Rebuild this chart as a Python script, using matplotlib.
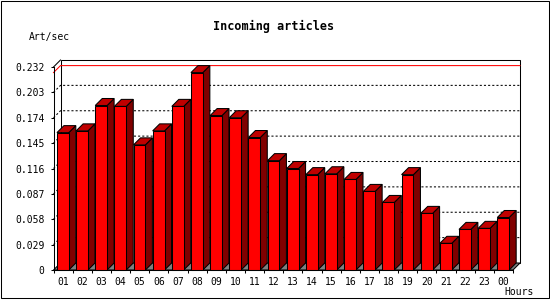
import matplotlib
matplotlib.use('Agg')
import matplotlib.pyplot as plt
from matplotlib.patches import Polygon, Rectangle

# ---- data ----
hours = ['01', '02', '03', '04', '05', '06', '07', '08', '09', '10', '11', '12',
         '13', '14', '15', '16', '17', '18', '19', '20', '21', '22', '23', '00']
rate = [0.157, 0.159, 0.188, 0.187, 0.143, 0.159, 0.187, 0.2256, 0.1765, 0.174,
        0.1514, 0.125, 0.116, 0.109, 0.110, 0.1035, 0.0898, 0.0772, 0.109, 0.0647,
        0.0305, 0.0464, 0.0476, 0.060]
yticks = [0, 0.029, 0.058, 0.087, 0.116, 0.145, 0.174, 0.203, 0.232]
ytick_labels = ['0', '0.029', '0.058', '0.087', '0.116', '0.145', '0.174', '0.203', '0.232']
title = 'Incoming articles'
ylabel = 'Art/sec'
xlabel = 'Hours'

# ---- layout (pixels) ----
W, H = 550, 300
L, R, T, B = 53.5, 513, 67, 270
DEPTH = 7
FONT = 'DejaVu Sans Mono'

fig = plt.figure(figsize=(W / 100, H / 100), dpi=100)
fig.patch.set_facecolor('white')
ax = fig.add_axes([L / W, 1 - B / H, (R - L) / W, (B - T) / H])
n = len(hours)
ymax = yticks[-1]
ax.set_xlim(0, n)
ax.set_ylim(0, ymax)
ax.patch.set_visible(False)
dx = DEPTH * n / (R - L)
dy = DEPTH * ymax / (B - T)
LW = 0.75

for s in ['top', 'right']:
    ax.spines[s].set_visible(False)
for s in ['left', 'bottom']:
    ax.spines[s].set_linewidth(LW)
    ax.spines[s].set_zorder(20)

# back plane
ax.add_patch(Rectangle((dx, dy), n, ymax, facecolor='white', edgecolor='black',
                       lw=LW, clip_on=False, zorder=1))
# grid lines on back wall + left wall
for v in yticks[1:-1]:
    ax.plot([0, dx, n + dx], [v, v + dy, v + dy], color='black', lw=LW,
            linestyle=(0, (2, 2)), clip_on=False, zorder=2)
# top-left diagonal
ax.plot([0, dx], [ymax, ymax + dy], color='black', lw=LW, clip_on=False, zorder=2)
# max line
mx = max(rate)
ax.plot([0, dx, n + dx], [mx, mx + dy, mx + dy], color='#ff0000', lw=LW,
        clip_on=False, zorder=2)
# floor
ax.add_patch(Polygon([(0, 0), (n, 0), (n + dx, dy), (dx, dy)], closed=True,
                     facecolor='#808080', edgecolor='black', lw=LW,
                     clip_on=False, zorder=3))

# bars
x0off, x1off = 0.18, 0.8
for i, v in enumerate(rate):
    a, b = i + x0off, i + x1off
    z = 4 + i * 0.01
    ax.add_patch(Polygon([(b, 0), (b + dx, dy), (b + dx, v + dy), (b, v)], closed=True,
                         facecolor='#800000', edgecolor='black', lw=LW,
                         clip_on=False, zorder=z))
    ax.add_patch(Polygon([(a, v), (b, v), (b + dx, v + dy), (a + dx, v + dy)], closed=True,
                         facecolor='#c00000', edgecolor='black', lw=LW,
                         clip_on=False, zorder=z))
    ax.add_patch(Rectangle((a, 0), b - a, v, facecolor='#ff0000', edgecolor='black',
                           lw=LW, clip_on=False, zorder=z))

# ticks
ax.set_yticks(yticks, ytick_labels)
ax.tick_params(axis='y', length=2.5, width=LW, pad=4, labelsize=7)
ax.set_xticks(range(n + 1), [''] * (n + 1))
ax.set_xticks([i + 0.5 for i in range(n)], hours, minor=True)
ax.tick_params(axis='x', which='major', length=2.5, width=LW)
ax.tick_params(axis='x', which='minor', length=0, pad=5, labelsize=7)
for lab in ax.get_yticklabels() + ax.get_xticklabels(minor=True):
    lab.set_family(FONT)

fig.text(273.5 / W, 1 - 26 / H, title, ha='center', va='center', fontsize=8.5,
         fontweight='bold', family=FONT)
fig.text(29.3 / W, 1 - 37 / H, ylabel, ha='left', va='center', fontsize=7, family=FONT)
fig.text(533.7 / W, 1 - 292.3 / H, xlabel, ha='right', va='center', fontsize=7, family=FONT)

fig.add_artist(Rectangle((0.5 / W, 2.5 / H), 548.5 / W, 297 / H, transform=fig.transFigure,
                         fill=False, edgecolor='black', lw=LW))

fig.savefig('out.png', dpi=100)
